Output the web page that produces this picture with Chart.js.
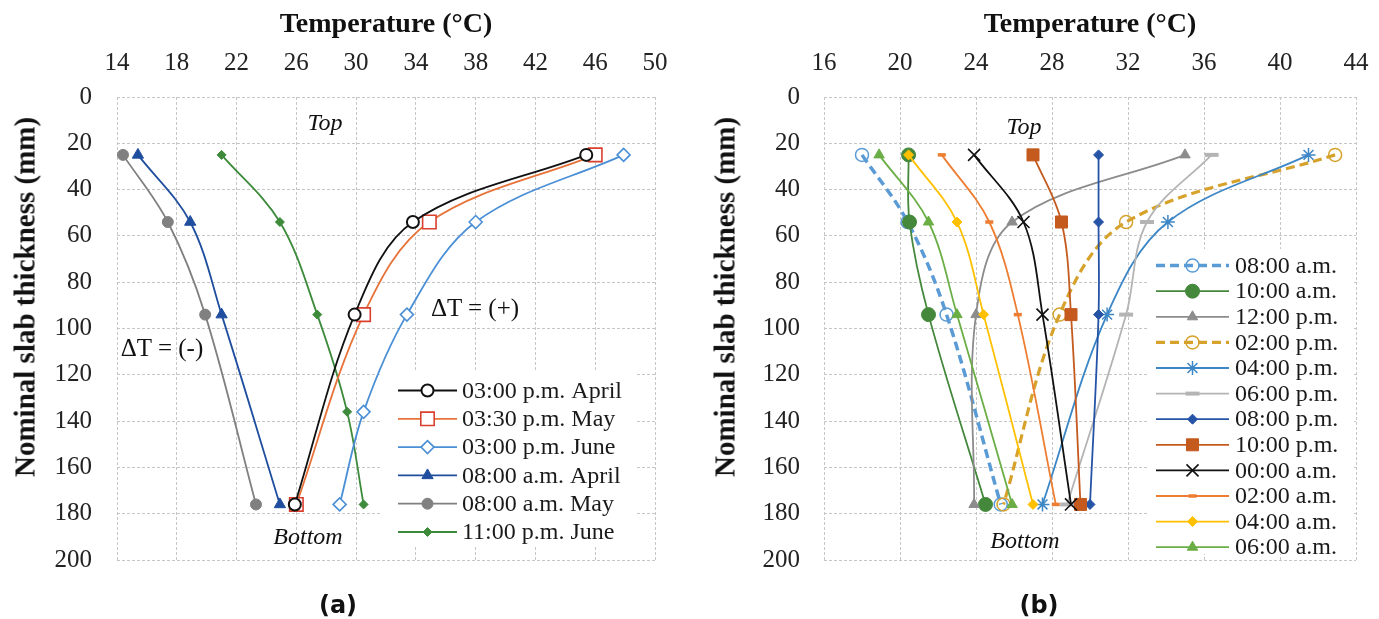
<!DOCTYPE html>
<html>
<head>
<meta charset="utf-8">
<script src="https://cdn.jsdelivr.net/npm/chart.js@4.4.1/dist/chart.umd.min.js"></script>
<style>
  body { margin: 0; background: #fff; }
  #wrap { position: relative; width: 1379px; height: 619px; overflow: hidden; font-family: "Liberation Serif", "DejaVu Serif", serif; color: #111; }
  canvas { position: absolute; top: 0; }
  #chartA { left: 0; }
  #chartB { left: 690px; }
  .lbl { position: absolute; transform: translate(-50%, -50%); white-space: nowrap; line-height: 1; }
  .ytitle { font-weight: bold; font-size: 29px; transform: translate(-50%, -50%) rotate(-90deg); }
  .note { font-size: 24px; font-style: italic; }
  .delta { font-size: 25px; }
  .panel { font-family: "DejaVu Sans", sans-serif; font-weight: bold; font-size: 24px; }
</style>
</head>
<body>
<div id="wrap">
  <canvas id="chartA" width="690" height="580"></canvas>
  <canvas id="chartB" width="689" height="580"></canvas>

  <div class="lbl ytitle" style="left:25px; top:297px">Nominal slab thickness (mm)</div>
  <div class="lbl ytitle" style="left:725px; top:297px">Nominal slab thickness (mm)</div>

  <div class="lbl note" style="left:325px; top:122px">Top</div>
  <div class="lbl note" style="left:308px; top:536px">Bottom</div>
  <div class="lbl delta" style="left:475px; top:307px">ΔT = (+)</div>
  <div class="lbl delta" style="left:162px; top:347px">ΔT = (-)</div>

  <div class="lbl note" style="left:1024px; top:126px">Top</div>
  <div class="lbl note" style="left:1025px; top:540px">Bottom</div>

  <div class="lbl panel" style="left:338px; top:605px">(a)</div>
  <div class="lbl panel" style="left:1039px; top:605px">(b)</div>
</div>

<script>
const SERIF = '"Liberation Serif", "DejaVu Serif", serif';

// ---- (a) monthly profiles ----
const depthA = [25, 54, 94, 176];
const depthJune = [25, 54, 94, 136, 176];
const aprilPM = [45.4, 33.8, 29.9, 25.9];
const mayPM = [46.0, 34.9, 30.5, 26.0];
const junePM = [47.9, 38.0, 33.4, 30.5, 28.9];
const aprilAM = [15.4, 18.9, 21.0, 24.9];
const mayAM = [14.4, 17.4, 19.9, 23.3];
const juneNight = [21.0, 24.9, 27.4, 29.4, 30.5];

// ---- (b) hourly profiles ----
const depthB = [25, 54, 94, 176];
const h0800am = [18.0, 20.4, 22.45, 25.3];
const h1000am = [20.45, 20.5, 21.5, 24.5];
const h1200pm = [35.0, 25.9, 24.0, 23.9];
const h0200pm = [42.9, 31.9, 28.4, 25.45];
const h0400pm = [41.5, 34.1, 30.9, 27.5];
const h0600pm = [36.4, 33.0, 31.9, 28.8];
const h0800pm = [30.45, 30.45, 30.45, 30.0];
const h1000pm = [27.0, 28.5, 29.0, 29.5];
const h0000am = [23.9, 26.5, 27.5, 29.0];
const h0200am = [22.2, 24.7, 26.2, 28.2];
const h0400am = [20.45, 23.0, 24.4, 27.0];
const h0600am = [18.9, 21.5, 23.0, 25.9];

function pts(xs, ys) {
  return xs.map((x, i) => ({ x: x, y: ys[i] }));
}

function series(label, xs, ys, color, extra) {
  return Object.assign({
    label: label,
    data: pts(xs, ys),
    showLine: true,
    tension: 0.35,
    borderColor: color,
    borderWidth: 1.8,
    pointBorderColor: color,
    pointBackgroundColor: color,
    pointBorderWidth: 1,
    pointRadius: 5,
    pointHoverRadius: 5
  }, extra);
}

// legend drawn inside the plot: line sample + marker + label
const sideLegend = {
  id: 'sideLegend',
  afterDatasetsDraw(chart, args, opts) {
    const ctx = chart.ctx;
    ctx.save();
    ctx.fillStyle = '#fff';
    ctx.fillRect(opts.box[0], opts.box[1], opts.box[2], opts.box[3]);
    chart.data.datasets.forEach((ds, i) => {
      const y = opts.y0 + i * opts.step;
      ctx.setLineDash(ds.borderDash || []);
      ctx.strokeStyle = ds.borderColor;
      ctx.lineWidth = ds.borderWidth;
      ctx.beginPath();
      ctx.moveTo(opts.x0, y);
      ctx.lineTo(opts.x1, y);
      ctx.stroke();
      ctx.setLineDash([]);
      ctx.fillStyle = ds.pointBackgroundColor;
      ctx.strokeStyle = ds.pointBorderColor;
      ctx.lineWidth = ds.pointBorderWidth;
      Chart.helpers.drawPoint(ctx, {
        pointStyle: ds.pointStyle || 'circle',
        radius: ds.pointRadius,
        borderWidth: ds.pointBorderWidth,
        rotation: 0
      }, (opts.x0 + opts.x1) / 2, y);
      ctx.fillStyle = '#1a1a1a';
      ctx.font = opts.font;
      ctx.textAlign = 'left';
      ctx.textBaseline = 'middle';
      ctx.fillText(ds.label, opts.textX, y + 1);
    });
    ctx.restore();
  }
};

function makeScales(xmin, xmax, yWidth, yPad) {
  const grid = { color: '#c6c6c6', lineWidth: 1, drawTicks: false };
  const border = { display: false, dash: [3, 2] };
  return {
    x: {
      type: 'linear', position: 'top', min: xmin, max: xmax,
      ticks: { stepSize: 4, autoSkip: false, padding: 19, color: '#222', font: { family: SERIF, size: 25 } },
      grid: grid, border: border,
      title: { display: true, text: 'Temperature (°C)', color: '#111',
               font: { family: SERIF, size: 28, weight: 'bold' }, padding: { top: 8, bottom: 0 } },
      afterFit(s) { s.height = 97; s.paddingLeft = 0; s.paddingRight = 0; }
    },
    y: {
      type: 'linear', reverse: true, min: 0, max: 200,
      ticks: { stepSize: 20, autoSkip: false, padding: yPad, color: '#222', font: { family: SERIF, size: 25 } },
      grid: grid, border: border,
      afterFit(s) { s.width = yWidth; s.paddingTop = 0; s.paddingBottom = 0; }
    }
  };
}

function baseOptions(xmin, xmax, yWidth, yPad, rightPad, legend) {
  return {
    responsive: false,
    animation: false,
    devicePixelRatio: 1,
    layout: { padding: { left: 0, top: 0, right: rightPad, bottom: 20 } },
    scales: makeScales(xmin, xmax, yWidth, yPad),
    plugins: { legend: { display: false }, tooltip: { enabled: false }, sideLegend: legend }
  };
}

new Chart(document.getElementById('chartA'), {
  type: 'scatter',
  data: {
    datasets: [
      series('03:00 p.m. April', aprilPM, depthA, '#111111',
        { pointStyle: 'circle', pointRadius: 6, pointBorderWidth: 2, pointBackgroundColor: '#ffffff' }),
      series('03:30 p.m. May', mayPM, depthA, '#e8733a',
        { pointStyle: 'rect', pointRadius: 9.5, pointBorderWidth: 1.6, pointBorderColor: '#d9402e', pointBackgroundColor: '#ffffff' }),
      series('03:00 p.m. June', junePM, depthJune, '#4a8fd6',
        { pointStyle: 'rectRot', pointRadius: 6.5, pointBorderWidth: 1.6, pointBackgroundColor: '#ffffff' }),
      series('08:00 a.m. April', aprilAM, depthA, '#1f4e9e',
        { pointStyle: 'triangle', pointRadius: 6.5 }),
      series('08:00 a.m. May', mayAM, depthA, '#808080',
        { pointStyle: 'circle', pointRadius: 5.5 }),
      series('11:00 p.m. June', juneNight, depthJune, '#3c8a3a',
        { pointStyle: 'rectRot', pointRadius: 4.5 })
    ]
  },
  options: baseOptions(14, 50, 117, 25, 35,
    { box: [381, 372, 254, 174], x0: 398, x1: 457, textX: 462, y0: 390.5, step: 28.3, font: '24px ' + SERIF }),
  plugins: [sideLegend]
});

const hourly = [
  series('08:00 a.m.', h0800am, depthB, '#5b9bd5',
    { borderDash: [9, 5], borderWidth: 3.5, pointStyle: 'circle', pointRadius: 6.5, pointBorderWidth: 1.5, pointBackgroundColor: 'rgba(0,0,0,0)' }),
  series('10:00 a.m.', h1000am, depthB, '#43883b',
    { pointStyle: 'circle', pointRadius: 7 }),
  series('12:00 p.m.', h1200pm, depthB, '#8c8c8c',
    { pointStyle: 'triangle', pointRadius: 6 }),
  series('02:00 p.m.', h0200pm, depthB, '#d6a22c',
    { borderDash: [9, 5], borderWidth: 3.2, pointStyle: 'circle', pointRadius: 6.5, pointBorderWidth: 1.5, pointBackgroundColor: 'rgba(0,0,0,0)' }),
  series('04:00 p.m.', h0400pm, depthB, '#3c86c6',
    { pointStyle: 'star', pointRadius: 7, pointBorderWidth: 1.5 }),
  series('06:00 p.m.', h0600pm, depthB, '#b4b4b4',
    { pointStyle: 'line', pointRadius: 7, pointBorderWidth: 4 }),
  series('08:00 p.m.', h0800pm, depthB, '#2553a6',
    { pointStyle: 'rectRot', pointRadius: 5 }),
  series('10:00 p.m.', h1000pm, depthB, '#c45a1e',
    { pointStyle: 'rect', pointRadius: 8.5 }),
  series('00:00 a.m.', h0000am, depthB, '#111111',
    { pointStyle: 'crossRot', pointRadius: 8.5, pointBorderWidth: 1.6 }),
  series('02:00 a.m.', h0200am, depthB, '#ed7d31',
    { pointStyle: 'line', pointRadius: 4, pointBorderWidth: 3.5 }),
  series('04:00 a.m.', h0400am, depthB, '#ffc000',
    { pointStyle: 'rectRot', pointRadius: 5 }),
  series('06:00 a.m.', h0600am, depthB, '#6aae45',
    { pointStyle: 'triangle', pointRadius: 6 })
];
// later series sit on top, as in the original
hourly.forEach((ds, i) => { ds.order = -i; });

new Chart(document.getElementById('chartB'), {
  type: 'scatter',
  data: { datasets: hourly },
  options: baseOptions(16, 44, 134, 24, 23,
    { box: [457, 249, 205, 305], x0: 466, x1: 539, textX: 545, y0: 265.6, step: 25.6, font: '24px ' + SERIF }),
  plugins: [sideLegend]
});
</script>
</body>
</html>
